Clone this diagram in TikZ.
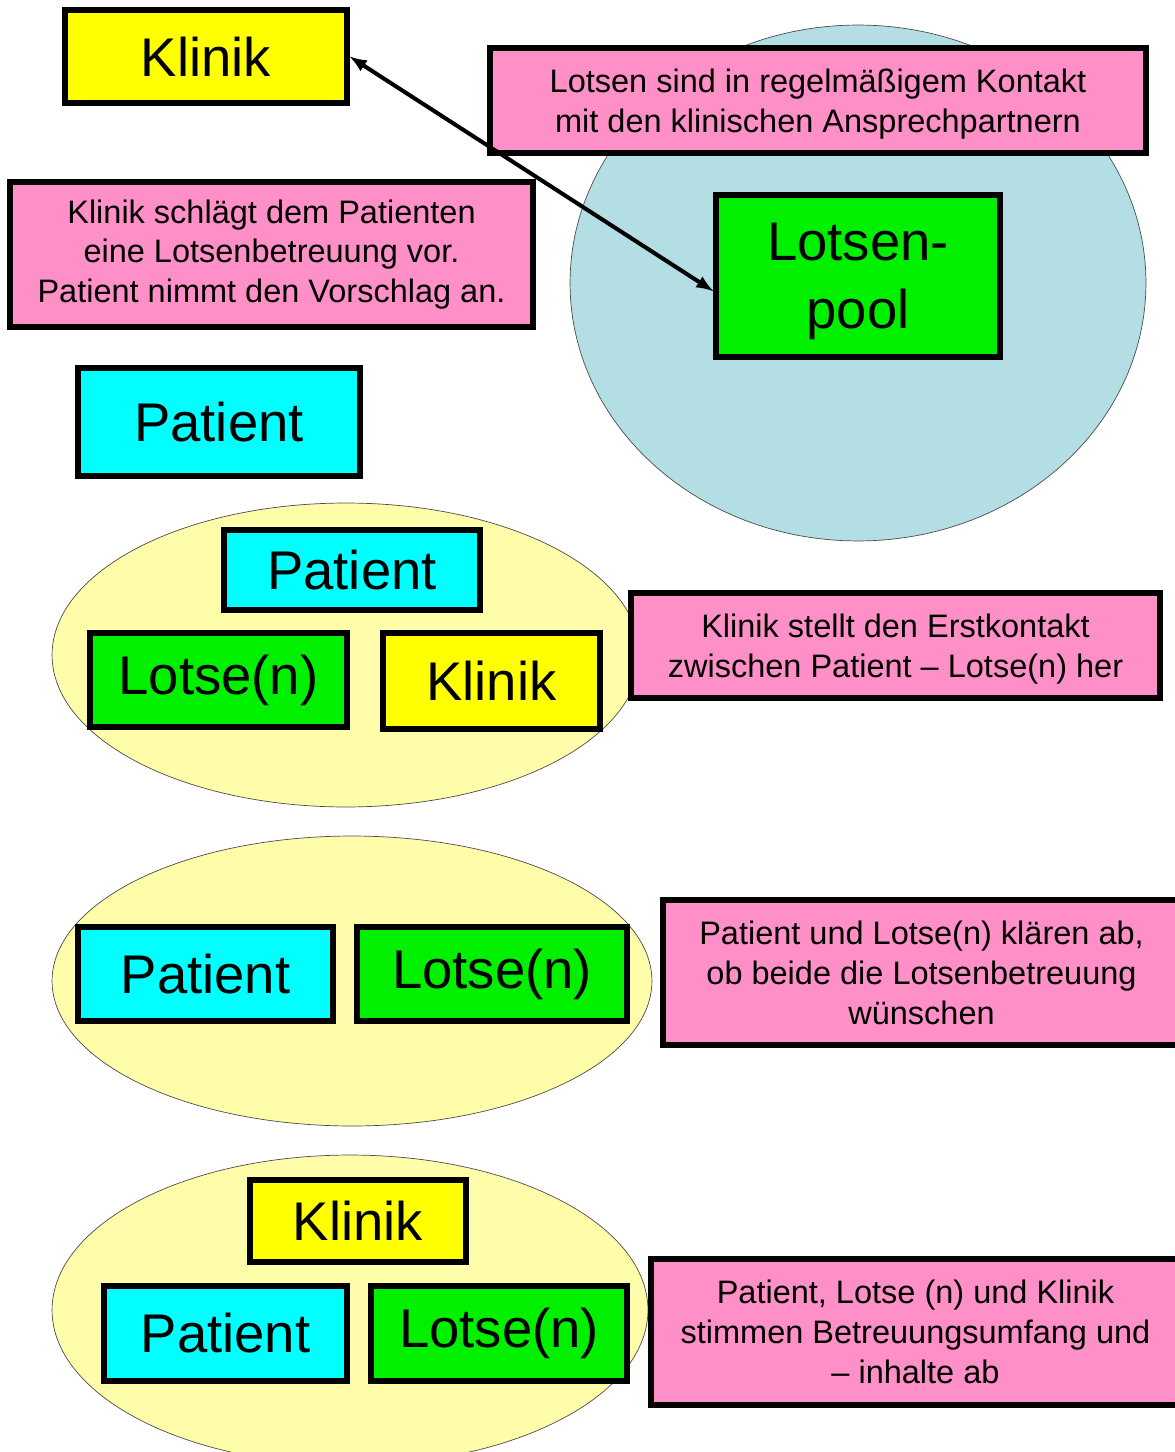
\documentclass[tikz,border=0pt]{standalone}
\usepackage{fontspec}
\setmainfont{Liberation Sans}
\usetikzlibrary{shapes.geometric}
\definecolor{lotsenpink}{RGB}{255,143,199}
\definecolor{poolblue}{RGB}{178,222,228}
\definecolor{ovalyellow}{RGB}{255,253,170}
\definecolor{boxgreen}{RGB}{0,240,0}
\definecolor{boxcyan}{RGB}{0,255,255}
\definecolor{boxyellow}{RGB}{255,255,0}
\newcommand{\bigfont}{\fontsize{31}{37}\selectfont}
\newcommand{\smallfont}{\fontsize{18.5}{22.7}\selectfont}

\begin{document}
\begin{tikzpicture}[x=0.02cm, y=-0.02cm,
			block_1/.style  = {draw, rectangle, black, line width=3pt, inner sep=0pt, font=\bigfont, align=center},
			note_1/.style   = {draw, rectangle, black, line width=3pt, inner sep=0pt, fill=lotsenpink, font=\smallfont, align=center, minimum height=2.1cm},
			oval_1/.style   = {draw, ellipse, black!70, thin, fill=ovalyellow, inner sep=0pt},]
			
			\useasboundingbox (0,0) rectangle (1174,1452);
			
			%% LOTSENPOOL AT THE TOP
			\node[draw, ellipse, black!70, thin, fill=poolblue, minimum width=11.52cm, minimum height=10.32cm] (poolcircle) at (858,283) {};
			\node[note_1, minimum width=13.12cm, text depth=0pt] (kontakt) at (818,100.5) {Lotsen sind in regelmäßigem Kontakt\\mit den klinischen Ansprechpartnern};
			\node[block_1, fill=boxgreen, minimum width=5.68cm, minimum height=3.24cm, font=\fontsize{31}{39}\selectfont, text depth=0pt] (pool) at (858,276) {Lotsen-\\pool};
			\node[block_1, fill=boxyellow, minimum width=5.64cm, minimum height=1.86cm] (klinik) at (206,56.5) {Klinik};
			\draw [black, line width=2.3pt, >=latex] [<->] (klinik.east) -- (pool.186);
			
			% VORSCHLAG
			\node[note_1, minimum width=10.46cm, minimum height=2.9cm] (vorschlag) at (271.5,254.5) {Klinik schlägt dem Patienten\\eine Lotsenbetreuung vor.\\Patient nimmt den Vorschlag an.};
			\node[block_1, fill=boxcyan, minimum width=5.64cm, minimum height=2.16cm] (patient) at (219,422) {Patient};
			
			%% ERSTKONTAKT
			\node[oval_1, minimum width=11.76cm, minimum height=6.08cm] (oval_a) at (346,655) {};
			\node[block_1, fill=boxcyan, minimum width=5.12cm, minimum height=1.6cm] (patient_a) at (352,570) {Patient};
			\node[block_1, fill=boxgreen, minimum width=5.14cm, minimum height=1.88cm] (lotse_a) at (218.5,680) {Lotse(n)};
			\node[block_1, fill=boxyellow, minimum width=4.34cm, minimum height=1.92cm] (klinik_a) at (491.5,681) {Klinik};
			\node[note_1, minimum width=10.58cm, text depth=0pt] (erstkontakt) at (895.5,645.5) {Klinik stellt den Erstkontakt\\zwischen Patient -- Lotse(n) her};
			
			%% ABKLAEREN
			\node[oval_1, minimum width=12cm, minimum height=5.8cm] (oval_b) at (352,981) {};
			\node[block_1, fill=boxcyan, minimum width=5.1cm, minimum height=1.88cm] (patient_b) at (205.5,974) {Patient};
			\node[block_1, fill=boxgreen, minimum width=5.4cm, minimum height=1.88cm] (lotse_b) at (492,974) {Lotse(n)};
			\node[note_1, minimum width=10.34cm, minimum height=2.9cm] (abklaeren) at (921.5,972.5) {Patient und Lotse(n) klären ab,\\ob beide die Lotsenbetreuung\\wünschen};
			
			%% BETREUUNGSUMFANG
			\node[oval_1, minimum width=11.92cm, minimum height=6.2cm] (oval_c) at (350,1310) {};
			\node[block_1, fill=boxyellow, minimum width=4.32cm, minimum height=1.64cm] (klinik_c) at (358,1221) {Klinik};
			\node[block_1, fill=boxcyan, minimum width=4.86cm, minimum height=1.9cm] (patient_c) at (225.5,1333.5) {Patient};
			\node[block_1, fill=boxgreen, minimum width=5.12cm, minimum height=1.9cm] (lotse_c) at (499,1333.5) {Lotse(n)};
			\node[note_1, minimum width=10.58cm, minimum height=2.92cm] (umfang) at (915.5,1332) {Patient, Lotse (n) und Klinik\\stimmen Betreuungsumfang und\\-- inhalte ab};
			\end{tikzpicture}
\end{document}
